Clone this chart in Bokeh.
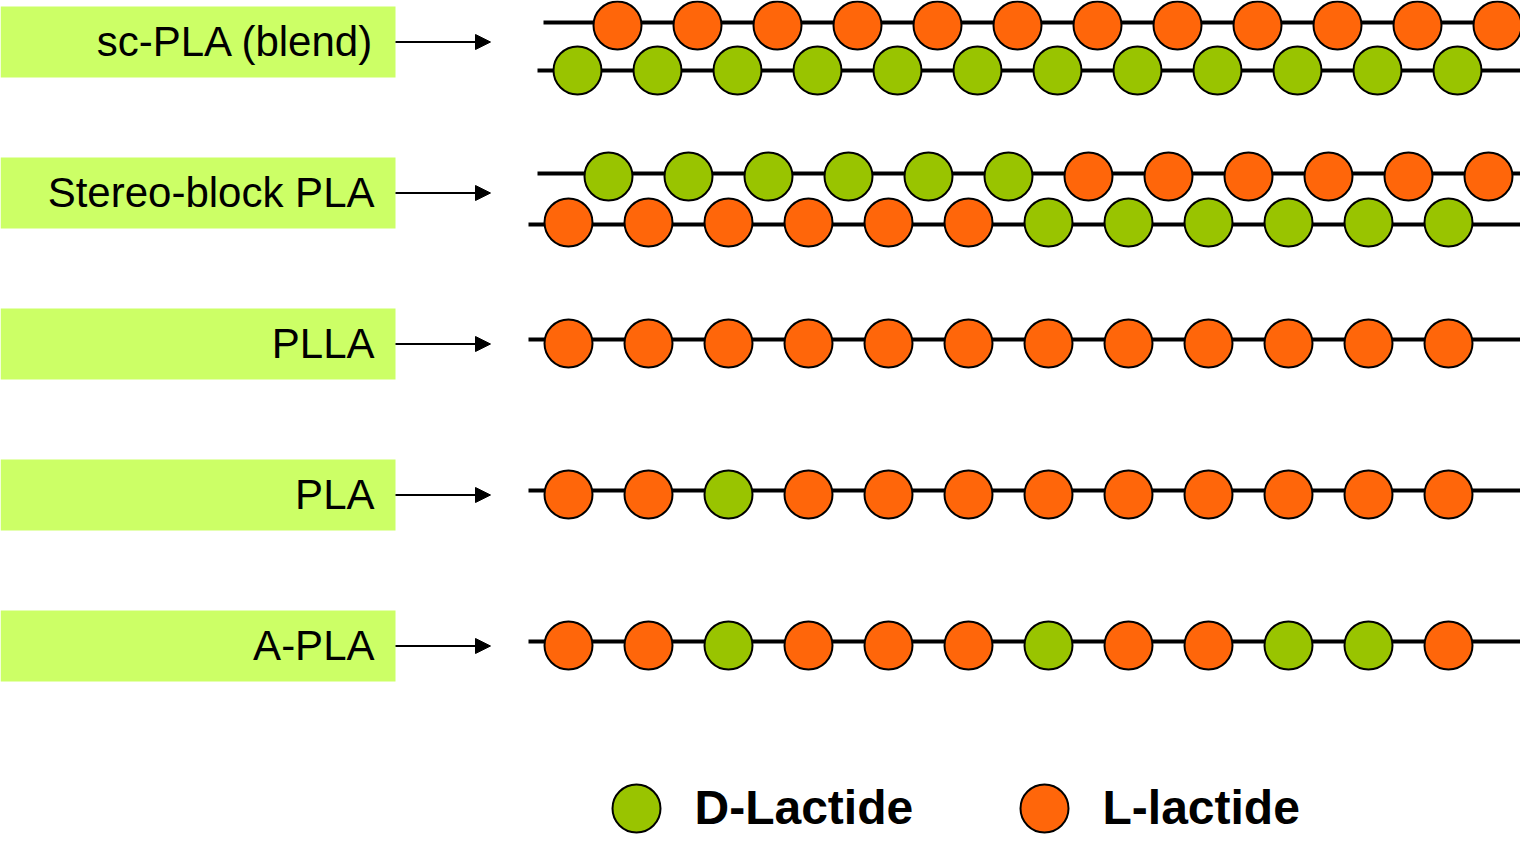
from bokeh.plotting import figure
from bokeh.models import Range1d, Arrow, NormalHead
from bokeh.core.properties import value
from bokeh.embed import file_html
from bokeh.resources import INLINE

# ---- data ----
labels = ["sc-PLA (blend)", "Stereo-block PLA", "PLLA", "PLA", "A-PLA"]
sc_top = ["L"] * 12
sc_bottom = ["D"] * 12
stereo_top = ["D"] * 6 + ["L"] * 6
stereo_bottom = ["L"] * 6 + ["D"] * 6
plla = ["L"] * 12
pla = list("LLDLLLLLLLLL")
apla = list("LLDLLLDLLDDL")
legend_names = ["D-Lactide", "L-lactide"]
legend_units = ["D", "L"]

# ---- style / layout ----
ORANGE = "#FF660A"
GREEN = "#99C400"
BOX = "#CCFF66"
W, H = 1520, 834
row_centers = [41.5, 192.5, 343.5, 494.5, 645.5]
spacing = 80
colors = {"D": GREEN, "L": ORANGE}


def Y(v):
    # layout is written top-down; flip to Bokeh's bottom-up axis
    return H - v


# chain: (sequence, line_y, line_x0, line_x1, first_circle_x, circle_y)
chains = [
    (sc_top, 22, 543, 1534, 617, 25),
    (sc_bottom, 70, 537, 1528, 577, 70),
    (stereo_top, 173, 537, 1528, 608, 176),
    (stereo_bottom, 224, 528, 1520, 568, 222),
    (plla, 339, 528, 1520, 568, 343),
    (pla, 490, 528, 1520, 568, 494),
    (apla, 641, 528, 1520, 568, 645),
]

p = figure(width=W, height=H, output_backend="svg", toolbar_location=None,
           x_range=Range1d(0, W), y_range=Range1d(0, H),
           min_border=0, outline_line_color=None)
p.axis.visible = False
p.grid.visible = False
p.background_fill_color = "white"

# label boxes
p.quad(left=[0] * 5, right=[395] * 5,
       top=[Y(c - 35.5) for c in row_centers], bottom=[Y(c + 35.5) for c in row_centers],
       fill_color=BOX, line_color=None)
p.text(x=[374] * 5, y=[Y(c - 1) for c in row_centers], text=labels,
       text_align="right", text_baseline="alphabetic",
       text_font=value("Liberation Sans"), text_font_size="42px", text_color="black")

# arrows
for c in row_centers:
    p.add_layout(Arrow(x_start=395, y_start=Y(c), x_end=490, y_end=Y(c),
                       line_width=2, line_color="black",
                       end=NormalHead(size=15, fill_color="black", line_color="black", line_width=1)))

# chain backbones
for seq, ly, x0, x1, cx0, cy in chains:
    p.line([x0, x1], [Y(ly), Y(ly)], line_width=4, line_color="black")

# monomer units
xs, ys, fills = [], [], []
for seq, ly, x0, x1, cx0, cy in chains:
    for i, u in enumerate(seq):
        xs.append(cx0 + spacing * i)
        ys.append(Y(cy))
        fills.append(colors[u])
p.scatter(xs, ys, size=48, fill_color=fills, line_color="black", line_width=2)

# legend
leg_y = 808
p.scatter([636, 1044], [Y(leg_y), Y(leg_y)], size=48,
          fill_color=[colors[u] for u in legend_units], line_color="black", line_width=2)
p.text(x=[694, 1102], y=[Y(leg_y - 1)] * 2, text=legend_names,
       text_align="left", text_baseline="alphabetic",
       text_font=value("Liberation Sans"), text_font_style="bold",
       text_font_size="48px", text_color="black")

open("out.html", "w").write(file_html(p, INLINE))
